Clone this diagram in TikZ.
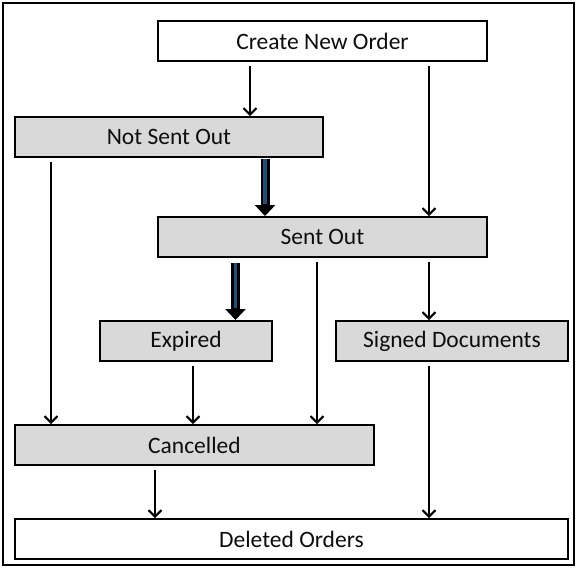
\documentclass[tikz,border=0pt]{standalone}
\usepackage{fontspec}
\setmainfont{Carlito}
\usetikzlibrary{arrows.meta,shadows}
\definecolor{boxgray}{HTML}{D9D9D9}
\definecolor{arrowblue}{HTML}{1F4E79}
\definecolor{txt}{HTML}{0D0D0D}
\begin{document}
\begin{tikzpicture}[x=1pt,y=-1pt,
  box/.style={draw=black, line width=1.9pt, minimum height=40pt, inner sep=0pt,
    font=\fontsize{23.5}{28}\selectfont, text=txt, anchor=north west, fill=white},
  gbox/.style={box, fill=boxgray,
    drop shadow={shadow xshift=1.5pt, shadow yshift=-1.5pt, opacity=0.3, fill=black}},
  arr/.style={line width=2pt, -{Straight Barb[length=6.5pt,width=13pt]}, shorten <=4pt},
  thickout/.style={line width=9pt, -{Triangle[length=11pt,width=20pt]}, shorten <=1pt},
  thickin/.style={line width=3.2pt, arrowblue, shorten <=1pt, shorten >=12pt}]
\useasboundingbox (0,0) rectangle (580,574);
\draw[line width=1.5pt] (3,3) rectangle (574,565);

\node[box,  minimum width=329pt] (create)  at (157,20)  {Create New Order};
\node[gbox, minimum width=308pt] (notsent) at (14,116)  {Not Sent Out};
\node[gbox, minimum width=329pt] (sent)    at (157,216) {Sent Out};
\node[gbox, minimum width=172pt] (expired) at (99,320)  {Expired};
\node[gbox, minimum width=232pt] (signed)  at (335,320) {Signed Documents};
\node[gbox, minimum width=359pt] (cancel)  at (14,424)  {Cancelled};
\node[box,  minimum width=553pt] (deleted) at (14,518)  {Deleted Orders};

\coordinate (c250) at (250,0);
\coordinate (c429) at (429,0);
\coordinate (c51)  at (51,0);
\coordinate (c317) at (317,0);
\coordinate (c193) at (193,0);
\coordinate (c155) at (155,0);
\coordinate (c265) at (265,0);
\coordinate (c235) at (235.5,0);

\draw[arr] (create.south -| c250) -- (notsent.north -| c250);
\draw[arr] (create.south -| c429) -- (sent.north -| c429);
\draw[arr] (notsent.south -| c51) -- (cancel.north -| c51);
\draw[arr] (sent.south -| c317) -- (cancel.north -| c317);
\draw[arr] (sent.south -| c429) -- (signed.north -| c429);
\draw[arr] (expired.south -| c193) -- (cancel.north -| c193);
\draw[arr] (signed.south -| c429) -- (deleted.north -| c429);
\draw[arr] (cancel.south -| c155) -- (deleted.north -| c155);

\draw[thickout] (notsent.south -| c265) -- (sent.north -| c265);
\draw[thickin]  (notsent.south -| c265) -- (sent.north -| c265);
\draw[thickout] (sent.south -| c235) ++(0,4) -- (expired.north -| c235);
\draw[thickin]  (sent.south -| c235) ++(0,4) -- (expired.north -| c235);
\end{tikzpicture}
\end{document}
